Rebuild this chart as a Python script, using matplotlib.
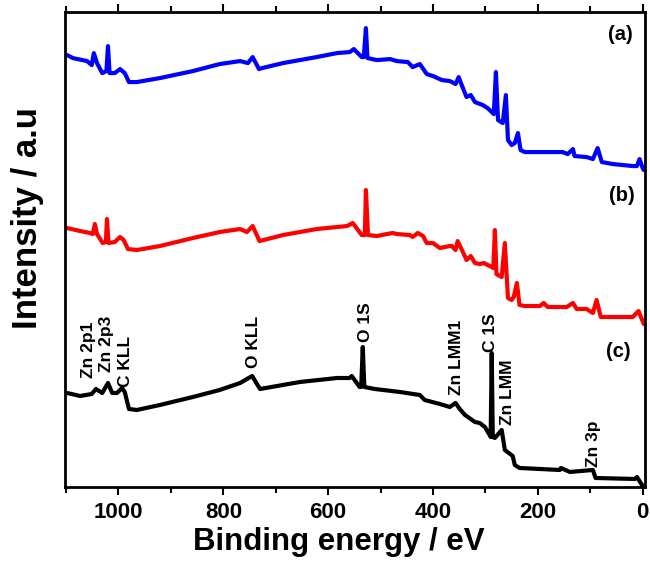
import matplotlib
matplotlib.use("Agg")
import matplotlib.pyplot as plt
from matplotlib.ticker import MultipleLocator

plt.rcParams['font.family'] = ['Liberation Sans', 'DejaVu Sans']
plt.rcParams['font.weight'] = 'bold'

# binding energy (eV) / intensity (a.u.)
eV_a = [1098, 1087, 1060, 1051, 1047, 1041, 1031, 1023, 1020, 1017, 1007, 997, 988, 980,
        965, 921, 858, 807, 768, 753, 744, 732, 726, 686, 622, 583, 559, 551, 536, 532,
        528, 525, 507, 482, 469, 448, 439, 425, 412, 400, 383, 368, 364, 357, 351, 343,
        336, 328, 320, 305, 296, 288, 284, 280, 276, 267, 261, 257, 250, 244, 238, 233,
        225, 153, 143, 133, 130, 107, 95, 86, 78, 57, 19, 11, 6, 0, -2]
int_a = [432, 429, 426, 422, 434, 424, 414, 416, 441, 414, 414, 418, 414, 405,
         405, 409, 416, 423, 426, 424, 430, 418, 419, 424, 430, 434, 435, 438, 430, 430,
         459, 429, 427, 428, 426, 425, 420, 423, 413, 411, 407, 406, 405, 403, 410, 399,
         390, 392, 385, 382, 379, 375, 373, 415, 367, 364, 392, 347, 342, 344, 354, 337,
         335, 335, 333, 338, 331, 330, 328, 339, 325, 323, 321, 321, 328, 319, 317]

eV_b = [1098, 1073, 1054, 1049, 1045, 1041, 1030, 1024, 1022, 1019, 1007, 997, 990, 982,
        965, 921, 858, 807, 768, 755, 744, 731, 686, 622, 564, 553, 536, 530, 528, 524,
        507, 488, 477, 469, 444, 439, 429, 419, 412, 400, 387, 368, 364, 357, 353, 343,
        336, 328, 320, 311, 303, 288, 285, 282, 279, 276, 269, 263, 257, 250, 246, 240,
        235, 225, 196, 189, 181, 145, 133, 126, 107, 95, 88, 80, 57, 19, 8, -2]
int_b = [259, 256, 254, 253, 263, 253, 244, 245, 268, 244, 245, 250, 247, 238,
         237, 241, 249, 255, 258, 255, 261, 246, 252, 258, 261, 264, 252, 252, 297, 252,
         251, 253, 254, 253, 252, 250, 254, 251, 244, 244, 239, 241, 241, 237, 246, 235,
         227, 231, 224, 223, 224, 220, 219, 257, 213, 212, 210, 244, 189, 187, 190, 204,
         182, 181, 181, 184, 180, 180, 184, 178, 178, 174, 187, 170, 170, 170, 176, 163]

eV_c = [1098, 1073, 1051, 1043, 1031, 1020, 1012, 1003, 993, 988, 980, 965, 921, 858,
        807, 768, 745, 730, 654, 583, 559, 555, 540, 537, 534, 531, 511, 463, 425, 416,
        387, 368, 357, 349, 339, 320, 311, 301, 292, 290, 288, 286, 282, 269, 263, 248,
        244, 235, 158, 156, 139, 95, 90, 15, 11, 0]
int_c = [94, 91, 93, 98, 94, 104, 94, 94, 99, 95, 78, 77, 82, 90,
         97, 104, 111, 98, 105, 109, 109, 111, 100, 100, 140, 100, 98, 95, 92, 87,
         83, 80, 84, 78, 72, 65, 64, 60, 52, 50, 134, 50, 49, 57, 37, 31,
         22, 19, 17, 19, 15, 17, 9, 8, 10, 1]

# peak labels: text, energy, bottom of text
peak_names = ['Zn 2p1', 'Zn 2p3', 'C KLL', 'O KLL', 'O 1S', 'Zn LMM1', 'C 1S', 'Zn LMM', 'Zn 3p']
peak_eV = [1058, 1022, 986, 742, 528, 355, 290, 257, 93]
peak_y = [109, 115, 100, 119, 145, 92, 135, 62, 20]

fig = plt.figure(figsize=(6.5, 5.62), dpi=100)
ax = fig.add_axes([0.1, 0.1335, 0.892, 0.845])

line_kw = dict(lw=3, solid_joinstyle='round', solid_capstyle='round')
ax.plot(eV_a, int_a, color='#0000ff', **line_kw)
ax.plot(eV_b, int_b, color='#ff0000', **line_kw)
ax.plot(eV_c, int_c, color='black', **line_kw)

for name, x, y in zip(peak_names, peak_eV, peak_y):
    ax.text(x, y, name, rotation=90, ha='center', va='bottom',
            fontsize=12.5, fontweight='bold')

ax.text(42, 453, '(a)', ha='center', va='center', fontsize=14.5, fontweight='bold')
ax.text(40, 292, '(b)', ha='center', va='center', fontsize=14.5, fontweight='bold')
ax.text(46, 136, '(c)', ha='center', va='center', fontsize=14.5, fontweight='bold')

ax.set_xlim(1102, -4)
ax.set_ylim(0, 475)
ax.xaxis.set_major_locator(MultipleLocator(200))
ax.xaxis.set_minor_locator(MultipleLocator(100))
ax.tick_params(axis='x', which='major', direction='out', length=6, width=1.5,
               labelsize=16, pad=5, top=True)
ax.tick_params(axis='x', which='minor', direction='out', length=4, width=1.5, top=True)
ax.set_yticks([])
for s in ax.spines.values():
    s.set_linewidth(2)
for lbl in ax.get_xticklabels():
    lbl.set_fontweight('bold')

fig.text(0.521, 0.035, 'Binding energy / eV', ha='center', va='center',
         fontsize=22.5, fontweight='bold')
fig.text(0.043, 0.612, 'Intensity / a.u', rotation=90, ha='center', va='center',
         fontsize=25, fontweight='bold')

fig.savefig('out.png', dpi=100)
